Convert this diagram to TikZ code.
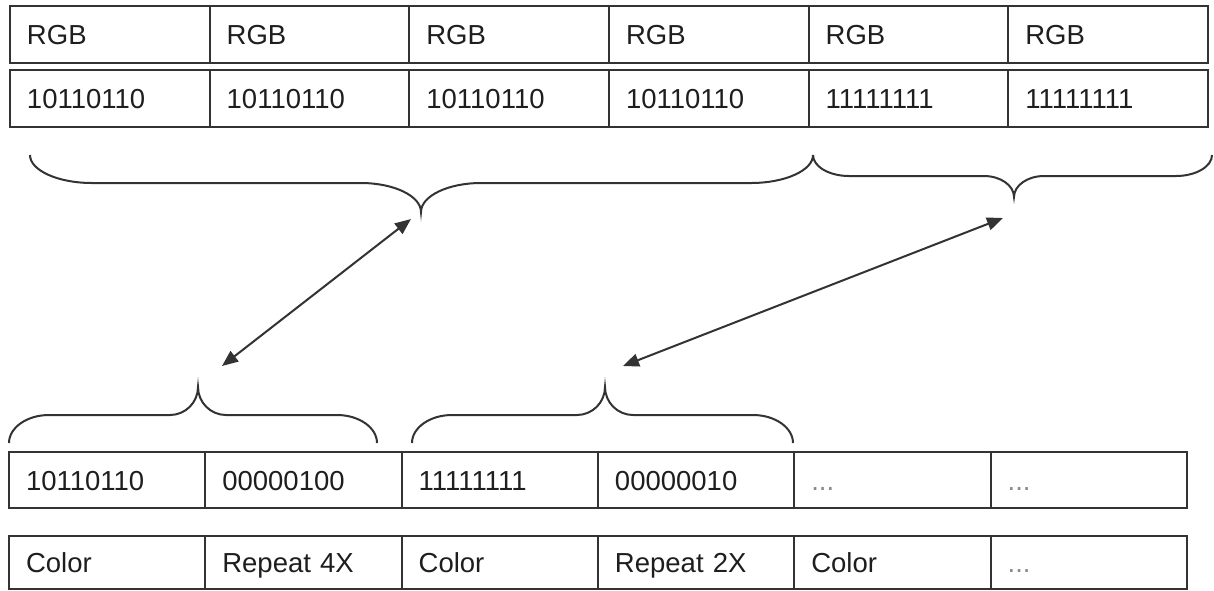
\documentclass[tikz,border=0pt]{standalone}
\usepackage{fontspec}
\setmainfont{Liberation Sans}
\usetikzlibrary{arrows.meta}
\definecolor{linec}{HTML}{333333}
\definecolor{txtc}{HTML}{1E1E1E}
\definecolor{dotc}{HTML}{8A8A8A}
% three grey dots used in the unfilled cells
\newcommand\ellip{\textcolor{dotc}{...}}
% horizontal curly brace: x-left, x-tip, x-right, y-ends, y-bar, y-tip, end radius, tip radius
\newcommand\bracepath[8]{%
  \draw[bracestyle] (#1,#4)
    .. controls (#1,{#4+0.55*(#5-#4)}) and ({#1+0.45*#7},#5) .. ({#1+#7},#5)
    -- ({#2-#8},#5)
    .. controls ({#2-0.45*#8},#5) and (#2,{#6-0.55*(#6-#5)}) .. (#2,#6)
    .. controls (#2,{#6-0.55*(#6-#5)}) and ({#2+0.45*#8},#5) .. ({#2+#8},#5)
    -- ({#3-#7},#5)
    .. controls ({#3-0.45*#7},#5) and (#3,{#4+0.55*(#5-#4)}) .. (#3,#4);}

\begin{document}
\begin{tikzpicture}[x=1pt,y=-1pt,
  cell/.style={draw=linec, line width=2pt, anchor=north west,
    minimum height=#1, inner xsep=17pt, inner ysep=0pt,
    text height=20pt, text depth=0pt, align=left, text=txtc,
    font=\fontsize{27.5}{33}\selectfont},
  topcell/.style={cell=57pt, text width=165.67pt},
  botcell/.style={cell=#1, text width=162.33pt},
  bracestyle/.style={draw=linec, line width=2pt},
  link/.style={draw=linec, line width=2pt,
    {Triangle[length=16pt,width=13pt]}-{Triangle[length=16pt,width=13pt]}}]

\useasboundingbox (0,0) rectangle (1214,590);

% source pixels: six RGB cells and their bytes
\foreach \t [count=\i from 0] in {RGB,RGB,RGB,RGB,RGB,RGB}
  \node[topcell] (rgb\i) at ({9+\i*199.67},5) {\t};
\foreach \t [count=\i from 0] in {10110110,10110110,10110110,10110110,11111111,11111111}
  \node[topcell] (px\i) at ({9+\i*199.67},69) {\t};

% encoded stream and its meaning
\foreach \t [count=\i from 0] in {10110110,00000100,11111111,00000010,\ellip,\ellip}
  \node[botcell=56pt] (enc\i) at ({8+\i*196.33},451) {\t};
\foreach \t [count=\i from 0] in {Color,Repeat 4X,Color,Repeat 2X,Color,\ellip}
  \node[botcell=53pt] (mean\i) at ({8+\i*196.33},535) {\t};

% braces grouping the runs
\bracepath{30}{421}{813}{155}{183}{212}{62}{60}
\bracepath{813}{1014}{1212}{155}{176}{197}{36}{30}
\bracepath{9}{198}{377}{443}{415}{387}{40}{28}
\bracepath{412}{605}{793}{443}{415}{387}{40}{28}

% arrow ends beside the brace tips
\coordinate (runA) at (411,219);
\coordinate (pairA) at (222,366);
\coordinate (runB) at (1003,218);
\coordinate (pairB) at (623,366);

\draw[link] (pairA) -- (runA);
\draw[link] (pairB) -- (runB);
\end{tikzpicture}
\end{document}
